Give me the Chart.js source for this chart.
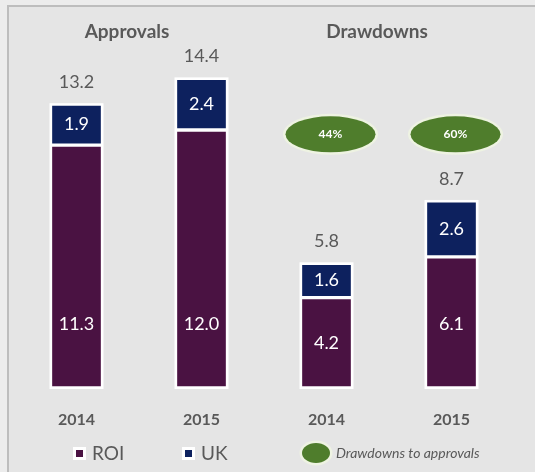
<!DOCTYPE html>
<html>
<head>
<meta charset="utf-8">
<script src="https://cdn.jsdelivr.net/npm/chart.js@4/dist/chart.umd.min.js"></script>
<style>
    html, body { margin: 0; padding: 0; }
    body { width: 535px; height: 472px; background: #ececec; position: relative; overflow: hidden; }
    .frame {
        position: absolute; left: 7px; top: 5px; right: 0; bottom: 0;
        background: #e5e5e5;
        border-left: 2px solid #bdbdbd;
        border-top: 2px solid #bdbdbd;
    }
    #chart { position: absolute; left: 0; top: 0; }
</style>
</head>
<body>
<div class="frame"></div>
<canvas id="chart" width="535" height="472"></canvas>
<script>
// ---- data ----
const categories = ['2014', '2015', '2014', '2015'];
const groupTitles = ['Approvals', 'Drawdowns'];
const roiValues = [11.3, 12.0, 4.2, 6.1];
const ukValues = [1.9, 2.4, 1.6, 2.6];
const totals = [13.2, 14.4, 5.8, 8.7];
const drawdownRatios = [null, null, '44%', '60%'];
const ratioLegend = 'Drawdowns to approvals';

// ---- styles ----
const ROI_COLOR = '#4a1242';
const UK_COLOR = '#0d215e';
const TEXT_GRAY = '#595959';
const GREEN = '#4f7d2c';
const FONT = 'Lato, "Open Sans", sans-serif';

function drawEllipse(ctx, cx, cy, rx, ry) {
    ctx.save();
    ctx.beginPath();
    ctx.ellipse(cx, cy, rx + 2.5, ry + 2.5, 0, 0, Math.PI * 2);
    ctx.fillStyle = '#eef3e2';
    ctx.fill();
    ctx.beginPath();
    ctx.ellipse(cx, cy, rx, ry, 0, 0, Math.PI * 2);
    ctx.fillStyle = GREEN;
    ctx.fill();
    ctx.restore();
}

// white frame around each whole stack (a bit wider than the segment borders)
const stackFrame = {
    id: 'stackFrame',
    beforeDatasetsDraw(chart) {
        const ctx = chart.ctx;
        const roiBars = chart.getDatasetMeta(0).data;
        const ukBars = chart.getDatasetMeta(1).data;
        ctx.save();
        ctx.fillStyle = '#ffffff';
        ukBars.forEach((bar, i) => {
            const top = bar.y;
            const bottom = roiBars[i].base;
            ctx.fillRect(bar.x - bar.width / 2 - 1, top - 1, bar.width + 2, bottom - top + 2);
        });
        ctx.restore();
    }
};

// labels, totals, ratio ellipses, headers and legend
const annotations = {
    id: 'annotations',
    afterDatasetsDraw(chart) {
        const ctx = chart.ctx;
        const x = chart.scales.x;
        const y = chart.scales.y;
        ctx.save();
        ctx.textAlign = 'center';
        ctx.textBaseline = 'middle';

        // values inside the bars
        const roiBars = chart.getDatasetMeta(0).data;
        const ukBars = chart.getDatasetMeta(1).data;
        ctx.font = '18px ' + FONT;
        ctx.fillStyle = '#ffffff';
        roiBars.forEach((bar, i) => {
            const v = roiValues[i];
            ctx.fillText(v.toFixed(1), bar.x, y.getPixelForValue(Math.min(v / 2, 2.95)));
        });
        ukBars.forEach((bar, i) => {
            ctx.fillText(ukValues[i].toFixed(1), bar.x, (bar.y + bar.base) / 2);
        });

        // totals above the bars
        ctx.fillStyle = TEXT_GRAY;
        ukBars.forEach((bar, i) => {
            ctx.fillText(totals[i].toFixed(1), bar.x, y.getPixelForValue(totals[i]) - 22);
        });

        // drawdowns to approvals ratio
        drawdownRatios.forEach((r, i) => {
            if (!r) return;
            const cx = x.getPixelForValue(i) + 4;
            const cy = y.getPixelForValue(11.8);
            drawEllipse(ctx, cx, cy, 45, 18);
            ctx.fillStyle = '#ffffff';
            ctx.font = 'bold 12px ' + FONT;
            ctx.fillText(r, cx, cy);
        });

        // group headers
        ctx.fillStyle = TEXT_GRAY;
        ctx.font = 'bold 19px ' + FONT;
        ctx.textBaseline = 'alphabetic';
        groupTitles.forEach((t, g) => {
            const mid = (x.getPixelForValue(g * 2) + x.getPixelForValue(g * 2 + 1)) / 2;
            ctx.fillText(t, mid - 12, 38);
        });

        // legend
        ctx.textAlign = 'left';
        const legendY = 453;
        const items = [
            { label: chart.data.datasets[0].label, color: ROI_COLOR, x: 73 },
            { label: chart.data.datasets[1].label, color: UK_COLOR, x: 182 }
        ];
        items.forEach((it) => {
            ctx.fillStyle = '#ffffff';
            ctx.fillRect(it.x, legendY - 6, 13, 13);
            ctx.fillStyle = it.color;
            ctx.fillRect(it.x + 3, legendY - 3, 7, 7);
            ctx.fillStyle = TEXT_GRAY;
            ctx.font = '19px ' + FONT;
            ctx.fillText(it.label, it.x + 19, legendY + 7);
        });
        drawEllipse(ctx, 316, legendY, 14, 10);
        ctx.fillStyle = TEXT_GRAY;
        ctx.font = 'italic 14px ' + FONT;
        ctx.fillText(ratioLegend, 336, legendY + 5);

        ctx.restore();
    }
};

new Chart(document.getElementById('chart'), {
    type: 'bar',
    data: {
        labels: categories,
        datasets: [
            {
                label: 'ROI',
                data: roiValues,
                backgroundColor: ROI_COLOR,
                borderColor: '#ffffff',
                borderWidth: 2,
                borderSkipped: false,
                barThickness: 52
            },
            {
                label: 'UK',
                data: ukValues,
                backgroundColor: UK_COLOR,
                borderColor: '#ffffff',
                borderWidth: 2,
                borderSkipped: false,
                barThickness: 52
            }
        ]
    },
    options: {
        responsive: false,
        animation: false,
        devicePixelRatio: 1,
        layout: { padding: { left: 14, right: 21, top: 44, bottom: 0 } },
        plugins: {
            legend: { display: false },
            tooltip: { enabled: false }
        },
        scales: {
            x: {
                stacked: true,
                grid: { display: false, drawTicks: false },
                border: { display: false },
                ticks: {
                    color: TEXT_GRAY,
                    font: { family: FONT, size: 16, weight: 'bold' },
                    padding: 22
                },
                afterFit(scale) { scale.height = 84; }
            },
            y: {
                stacked: true,
                display: false,
                min: 0,
                max: 16
            }
        }
    },
    plugins: [stackFrame, annotations]
});
</script>
</body>
</html>
